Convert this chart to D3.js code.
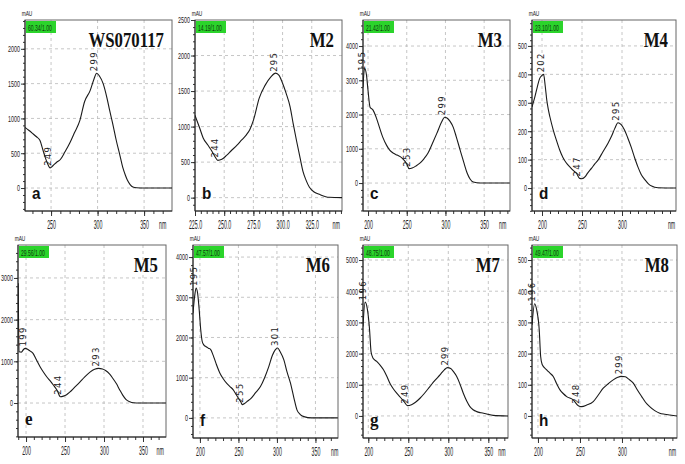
<!DOCTYPE html>
<html><head><meta charset="utf-8">
<script src="https://cdn.jsdelivr.net/npm/d3@7"></script>
<style>body{margin:0;background:#fff}svg{display:block}</style>
</head><body><svg id="c" width="685" height="464"></svg>
<script>
// ---------- data (wavelength nm / absorbance mAU) ----------
const wlA = [222,226,230,234,238,241,244,246,249,252,256,260,265,270,275,281,286,292,296,299,302,306,310,313,317,320,324,327,330,332,335,338,342,350,365,380];
const absA = [871,830,786,740,686,560,430,360,290,320,370,410,520,643,790,971,1240,1400,1560,1650,1610,1500,1300,1114,880,690,470,300,180,114,50,14,3,0,0,0];
const wlB = [225,229,232,236,239.5,242,244.5,248,252,256,261,265,269,272,275,280,285,290,294,297,300,303,306.5,309,312,315,317.6,320,323,327,332,340,351];
const absB = [1159,980,840,740,652,580,525,540,594,660,739,812,884,960,1087,1400,1580,1700,1753,1720,1609,1470,1275,1050,797,560,362,250,145,80,43,5,0];
const wlC = [193.5,195.5,198,200,202.6,206.5,210,213,219,224,228,233,237.5,244,250,253,257,262,267,272,277.5,283,289,295,299,302,306,310,314,319,324,328,332,336,345,383];
const absC = [2800,3350,3150,2700,2216,2128,1950,1750,1341,1100,962,870,816,729,560,420,437,500,583,700,875,1150,1458,1780,1920,1900,1800,1633,1350,962,580,292,110,29,0,0];
const wlD = [187.5,191,194,197,200,202,204,206,208,210,214,218,222,226,230,235,239,243,247,250,254,257,262,266,270,276,282.5,287,291,295,299,303,307,311.5,316,320,324,329,333,337,345,367.5];
const absD = [2853,3200,3544,3850,3965,4000,3600,3088,2750,2491,2050,1684,1350,1088,900,737,620,526,340,330,400,526,700,850,982,1270,1579,1830,2100,2300,2230,2050,1780,1439,1050,737,480,281,150,70,10,0];
const wlE = [190,191,194,197,199,202,205,209,213,218,222,226.5,231,235,240,244,248,252,256,262,269,275,282,288,293,298,302,307,311,316,320,324,328,333,338,345,379.5];
const absE = [2870,1230,1220,1290,1310,1290,1250,1191,1050,871,750,631,530,432,300,150,165,200,260,370,500,620,740,810,830,815,780,700,600,460,320,190,90,30,5,0,0];
const wlF = [191,193,195,197,199,201,203,205,208,211,214,217,221,226,230,234.6,239,243.3,247,250,253,255,258,262,266,272,278.6,284,289.4,294,298,301,304,309,313,317.6,322,326,330,335,345,379];
const absF = [2604,3000,3230,3100,2700,2200,1900,1816,1770,1733,1700,1567,1350,1112,980,863,780,697,580,490,400,330,360,420,480,620,779,1000,1276,1550,1700,1740,1650,1443,1150,863,500,199,90,32,0,0];
const wlG = [193.4,196,199,201.5,203.5,206,210.5,215,219,223,227,231,235.5,240,245,249,254,259,264.6,270,277,283,289.6,295,299,303,306.5,310.5,314.5,318.75,323,327,331,335.5,341,348,356,374.6];
const absG = [2872,3650,3400,2800,2050,1850,1747,1620,1479,1280,1051,880,729,600,450,330,360,440,568,720,943,1130,1318,1480,1550,1520,1420,1265,1030,729,480,300,200,139,100,64,20,0];
const wlH = [193,196,198.5,201.5,203.2,205,210.4,214,218.2,222,226.2,230,234.2,242,248,252,258,265.8,272,277.7,284,289.6,295,299,304,308,313.5,318,323.5,328,333,339,345,351,357,365.5];
const absH = [2926,3600,3400,2765,1907,1650,1479,1380,1265,1050,836,720,621,514,330,300,350,461,680,890,1040,1158,1240,1270,1255,1180,1051,850,621,440,300,170,86,55,32,0];

const sampleNames = ["WS070117","M2","M3","M4","M5","M6","M7","M8"];
const panelLetters = ["a","b","c","d","e","f","g","h"];
const retentionLabels = ["60.34/1.00","14.19/1.00","21.42/1.00","23.10/1.00","29.56/1.00","47.57/1.00","48.75/1.00","49.47/1.00"];
const peaksA = [249,299];
const peaksB = [244,295];
const peaksC = [195,253,299];
const peaksD = [202,247,295];
const peaksE = [199,244,293];
const peaksF = [195,255,301];
const peaksG = [196,249,299];
const peaksH = [196,248,299];

const xTicksA = [250,300,350];
const xTicksB = [225,250,275,300,325];
const xTicks200to350 = [200,250,300,350];
const xTicks200to300 = [200,250,300];
const yTicksA = [0,500,1000,1500,2000];
const yTicksB = [0,500,1000,1500,2000,2500];
const yTicks4000 = [0,1000,2000,3000,4000];
const yTicks5000 = [0,1000,2000,3000,4000,5000];
const yTicks3000 = [0,1000,2000,3000];
const yLabelsTrunc = ["0","100","200","300","400","500"];

// ---------- layout ----------
const layout = [
  {wl:wlA, ab:absA, pk:peaksA, xt:xTicksA, yt:yTicksA, xd:[222,380], yd:[-330,2414], f:[25,20,172,211], nm:370, xf:d3.format("d")},
  {wl:wlB, ab:absB, pk:peaksB, xt:xTicksB, yt:yTicksB, xd:[225,350.9], yd:[-188,2500], f:[195,20,342,211], nm:346, xf:d3.format(".1f")},
  {wl:wlC, ab:absC, pk:peaksC, xt:xTicks200to350, yt:yTicks4000, xd:[193.5,383.4], yd:[-816,4760], f:[363,20,510,211], nm:374, xf:d3.format("d")},
  {wl:wlD, ab:absD, pk:peaksD, xt:xTicks200to300, yt:yTicks5000, yl:yLabelsTrunc, xd:[187.5,367.5], yd:[-807,5912], f:[532,20,676,211], nm:362, xf:d3.format("d")},
  {wl:wlE, ab:absE, pk:peaksE, xt:xTicks200to350, yt:yTicks3000, xd:[189.7,379.5], yd:[-815,3790], f:[18,245,166,437], nm:372, xf:d3.format("d")},
  {wl:wlF, ab:absF, pk:peaksF, xt:xTicks200to350, yt:yTicks4000, xd:[191,379.3], yd:[-500,4300], f:[193,245,338,438], nm:375, xf:d3.format("d")},
  {wl:wlG, ab:absG, pk:peaksG, xt:xTicks200to350, yt:yTicks5000, xd:[193.4,374.6], yd:[-707,5482], f:[363,245,508,438], nm:367, xf:d3.format("d")},
  {wl:wlH, ab:absH, pk:peaksH, xt:xTicks200to300, yt:yTicks5000, yl:yLabelsTrunc, xd:[192.9,365.5], yd:[-707,5482], f:[532,245,677,438], nm:360, xf:d3.format("d")}
];
const serifLetters = {e:true, g:true};
const SANS = "Liberation Sans, Arial, sans-serif";

const svg = d3.select("#c");
const defs = svg.append("defs");

function interp(wl, ab, w) {
  const i = d3.bisectLeft(wl, w);
  if (i <= 0) return ab[0];
  if (i >= wl.length) return ab[ab.length-1];
  const t = (w - wl[i-1]) / (wl[i] - wl[i-1]);
  return ab[i-1] + t * (ab[i] - ab[i-1]);
}

// text squeezed horizontally through a transform
function squeezed(parent, x, y, sx, str, size, anchor, family, weight) {
  return parent.append("text")
    .attr("transform", `translate(${x},${y}) scale(${sx},1)`)
    .attr("text-anchor", anchor || "start")
    .attr("font-family", family || SANS).attr("font-weight", weight || "normal")
    .attr("font-size", size).attr("fill", "#1a1a1a").text(str);
}

layout.forEach((p, idx) => {
  const [L, T, R, B] = p.f;
  const x = d3.scaleLinear().domain(p.xd).range([L, R]);
  const y = d3.scaleLinear().domain(p.yd).range([B, T]);
  const g = svg.append("g");

  // grid
  g.selectAll(".gx").data(p.xt.filter(t => x(t) > L + 1 && x(t) < R - 1)).join("line")
    .attr("x1", d => x(d)).attr("x2", d => x(d)).attr("y1", T).attr("y2", B)
    .attr("stroke", "#b8b8b8").attr("stroke-width", 0.8).attr("stroke-dasharray", "3,3");
  g.selectAll(".gy").data(p.yt.filter(t => y(t) > T + 1)).join("line")
    .attr("x1", L).attr("x2", R).attr("y1", d => y(d)).attr("y2", d => y(d))
    .attr("stroke", "#b8b8b8").attr("stroke-width", 0.8).attr("stroke-dasharray", "3,3");

  // frame
  g.append("rect").attr("x", L).attr("y", T).attr("width", R - L).attr("height", B - T)
    .attr("fill", "none").attr("stroke", "#666").attr("stroke-width", 1);

  // y axis
  const yStep = p.yt[1] - p.yt[0];
  const yMinor = d3.range(Math.ceil(p.yd[0] / (yStep/5)) * (yStep/5), p.yd[1], yStep/5);
  g.append("g").attr("transform", `translate(${L},0)`)
    .call(d3.axisLeft(y).tickValues(yMinor).tickSize(2).tickFormat(""))
    .call(a => a.select(".domain").remove())
    .call(a => a.selectAll("line").attr("stroke", "#333"));
  const ysx = 0.6;
  const ya = g.append("g").attr("transform", `translate(${L},0)`)
    .call(d3.axisLeft(y).tickValues(p.yt).tickSize(4).tickPadding(1)
      .tickFormat((d, i) => p.yl ? p.yl[i] : String(d)));
  ya.select(".domain").remove();
  ya.selectAll("line").attr("stroke", "#333");
  ya.selectAll("text").attr("font-family", SANS).attr("font-size", 9).attr("fill", "#222")
    .attr("x", -5 / ysx).attr("transform", `scale(${ysx},1)`);
  g.append("line").attr("x1", L).attr("x2", L).attr("y1", T).attr("y2", B).attr("stroke", "#222");

  // x axis
  const xStep = p.xt[1] - p.xt[0];
  const xMinor = d3.range(Math.ceil(p.xd[0] / (xStep/5)) * (xStep/5), p.xd[1], xStep/5);
  g.append("g").attr("transform", `translate(0,${B})`)
    .call(d3.axisBottom(x).tickValues(xMinor).tickSize(3).tickFormat(""))
    .call(a => a.select(".domain").remove())
    .call(a => a.selectAll("line").attr("stroke", "#333"));
  const xa = g.append("g").attr("transform", `translate(0,${B})`)
    .call(d3.axisBottom(x).tickValues(p.xt).tickSize(5).tickPadding(4).tickFormat(p.xf));
  xa.select(".domain").remove();
  xa.selectAll("line").attr("stroke", "#333");
  xa.selectAll("text").attr("font-family", SANS).attr("font-size", 12).attr("fill", "#222")
    .attr("transform", "scale(0.44,1)");
  g.append("line").attr("x1", L).attr("x2", R).attr("y1", B).attr("y2", B).attr("stroke", "#222");
  squeezed(g, x(p.nm), B + 18, 0.44, "nm", 12, "middle");

  // mAU
  squeezed(g, L + 2, T - 4, 0.6, "mAU", 8, "middle");

  // curve
  const cid = "clip" + idx;
  defs.append("clipPath").attr("id", cid).append("rect")
    .attr("x", L).attr("y", T).attr("width", R - L).attr("height", B - T);
  const pts = p.wl.map((w, i) => [w, p.ab[i]]);
  g.append("path").datum(pts).attr("clip-path", `url(#${cid})`)
    .attr("fill", "none").attr("stroke", "#1a1a1a").attr("stroke-width", 1.1)
    .attr("d", d3.line().x(d => x(d[0])).y(d => y(d[1])).curve(d3.curveMonotoneX));

  // peak labels
  p.pk.forEach(w => {
    const px = x(w), py = y(interp(p.wl, p.ab, w));
    g.append("text").attr("transform", `translate(${px + 0.5},${py - 2}) rotate(-90)`)
      .attr("font-family", "DejaVu Sans, sans-serif").attr("font-size", 8.5)
      .attr("letter-spacing", 1.3).attr("fill", "#222").text(String(w));
  });

  // green retention box
  g.append("rect").attr("x", L + 1).attr("y", T + 1).attr("width", 30).attr("height", 12)
    .attr("fill", "#2bd42b");
  squeezed(g, L + 3, T + 10.5, 0.56, retentionLabels[idx], 9).attr("fill", "#0f3a0f");

  // sample name
  squeezed(g, R - 8, T + 27, 0.8, sampleNames[idx], 21, "end",
    "Liberation Serif, Times New Roman, serif", "bold").attr("fill", "#111");

  // panel letter
  const letter = panelLetters[idx];
  squeezed(g, L + 7, B - 12, 0.9, letter, serifLetters[letter] ? 19 : 17, "start",
    serifLetters[letter] ? "Liberation Serif, serif" : SANS, "bold").attr("fill", "#111");
});
</script>
</body></html>
